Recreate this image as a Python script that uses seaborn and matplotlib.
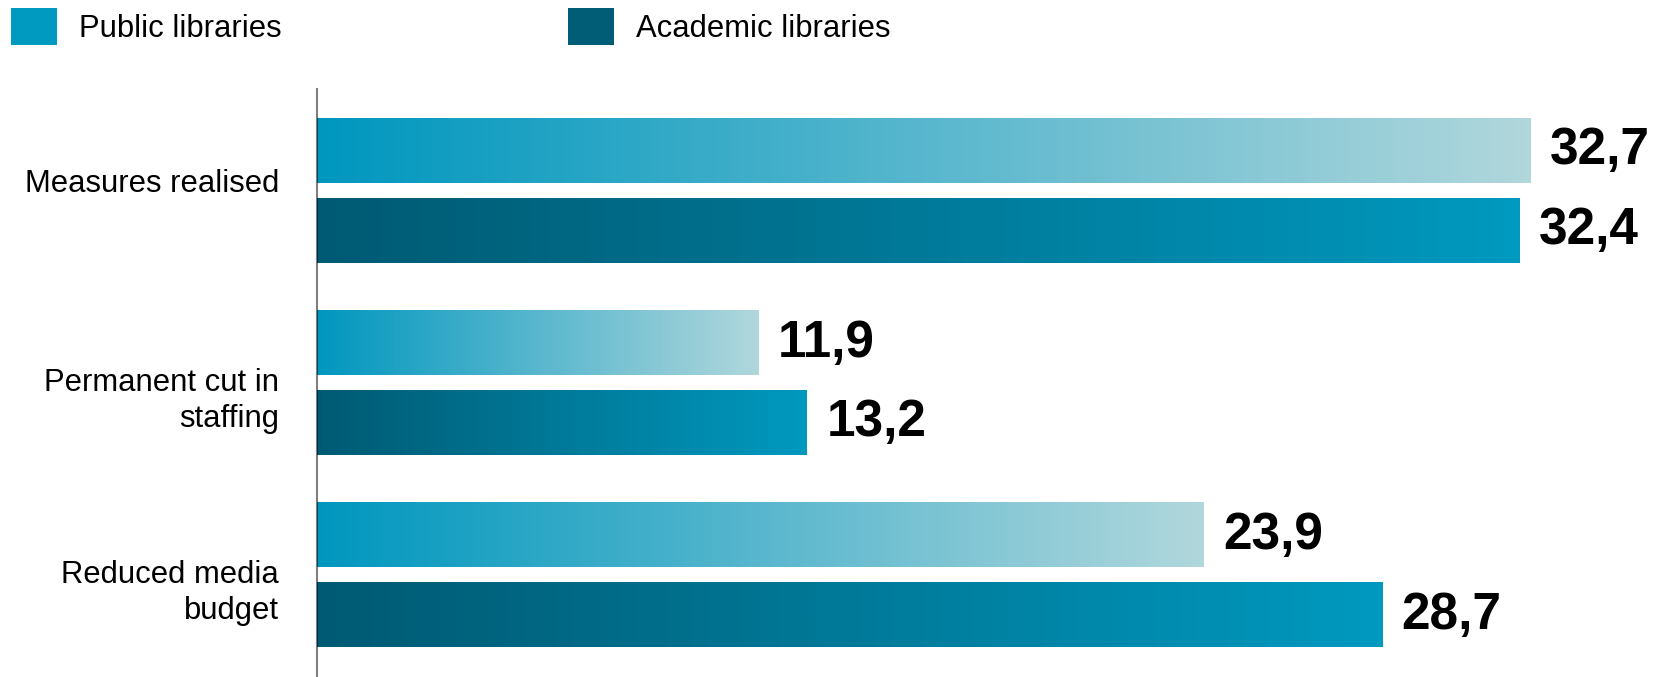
#!/usr/bin/env python3

import numpy as np
import pandas as pd
import matplotlib
matplotlib.use("Agg")
import matplotlib.pyplot as plt
from matplotlib.colors import LinearSegmentedColormap
from matplotlib.patches import Patch
from matplotlib.transforms import offset_copy
import seaborn as sns

# ======================================================
# DATA
# ======================================================
CATEGORIES = ["Measures realised", "Permanent cut in\nstaffing", "Reduced media\nbudget"]
SERIES = ["Public libraries", "Academic libraries"]
PUBLIC = [32.7, 11.9, 23.9]
ACADEMIC = [32.4, 13.2, 28.7]

# gradient (start, end) per series, plus flat legend colour
GRADIENTS = {
    "Public libraries": ("#0097bf", "#b0d7dc"),
    "Academic libraries": ("#005a73", "#0099bf"),
}
LEGEND_COLORS = {
    "Public libraries": "#0099c0",
    "Academic libraries": "#005d75",
}

W, H = 1669, 677
DPI = 100


def fmt(v):
    return f"{v:.1f}".replace(".", ",")


def main():
    sns.set_theme(style="white")
    plt.rcParams["font.family"] = ["Liberation Sans", "DejaVu Sans"]
    plt.rcParams["text.color"] = "black"

    rows = []
    for cat, p, a in zip(CATEGORIES, PUBLIC, ACADEMIC):
        rows.append({"Category": cat, "Series": SERIES[0], "Value": p})
        rows.append({"Category": cat, "Series": SERIES[1], "Value": a})
    df = pd.DataFrame(rows)

    fig = plt.figure(figsize=(W / DPI, H / DPI), dpi=DPI)
    ax = fig.add_axes([317 / W, 0, 1 - 317 / W, 1 - 89 / H])

    sns.barplot(
        data=df,
        y="Category",
        x="Value",
        hue="Series",
        hue_order=SERIES,
        order=CATEGORIES,
        orient="h",
        width=0.833,
        gap=0.19,
        palette=LEGEND_COLORS,
        legend=False,
        ax=ax,
    )

    # ---- gradient fill for each bar ----
    grad = np.linspace(0, 1, 256).reshape(1, -1)
    for series, cont in zip(SERIES, ax.containers):
        cmap = LinearSegmentedColormap.from_list(series, GRADIENTS[series])
        for bar in cont:
            x0, y0 = bar.get_x(), bar.get_y()
            w, h = bar.get_width(), bar.get_height()
            ax.imshow(grad, cmap=cmap, aspect="auto",
                      extent=(x0, x0 + w, y0 + h, y0), zorder=1,
                      interpolation="bicubic")
            bar.set_visible(False)
        ax.bar_label(cont, labels=[fmt(b.get_width()) for b in cont],
                     padding=14, fontsize=37, fontweight="bold", color="black")

    ax.set_xlim(0, 1352 / 37.11)
    ax.set_ylim(2.531, -0.531)

    for side in ["top", "right", "bottom"]:
        ax.spines[side].set_visible(False)
    ax.spines["left"].set_color((0, 0, 0, 0.5))
    ax.spines["left"].set_linewidth(1.5)

    ax.set_xticks([])
    ax.set_xlabel("")
    ax.set_ylabel("")

    # ---- category labels (single-line sits a bit high, wrapped ones low) ----
    ticks = ax.get_yticks()
    ax.set_yticks(ticks, [""] * len(ticks))
    ax.tick_params(axis="y", length=0)
    base = ax.get_yaxis_transform()
    for pos, cat in zip(ticks, CATEGORIES):
        dy = 7 if "\n" not in cat else -18
        tr = offset_copy(base, fig=fig, x=-38, y=dy, units="dots")
        ax.text(0, pos, cat, transform=tr, ha="right", va="center",
                fontsize=22.3, linespacing=1.3, color="black")

    # ---- legend ----
    handles = [Patch(facecolor=LEGEND_COLORS[s], edgecolor="none", label=s) for s in SERIES]
    fig.legend(
        handles=handles,
        loc="upper left",
        bbox_to_anchor=(11 / W, 1 - 8 / H),
        ncol=2,
        frameon=False,
        fontsize=22.3,
        labelcolor="black",
        handlelength=1.48,
        handleheight=1.45,
        handletextpad=0.71,
        columnspacing=9.26,
        borderpad=0,
        borderaxespad=0,
    )

    fig.savefig("out.png", dpi=DPI)
    plt.close(fig)


if __name__ == "__main__":
    main()
